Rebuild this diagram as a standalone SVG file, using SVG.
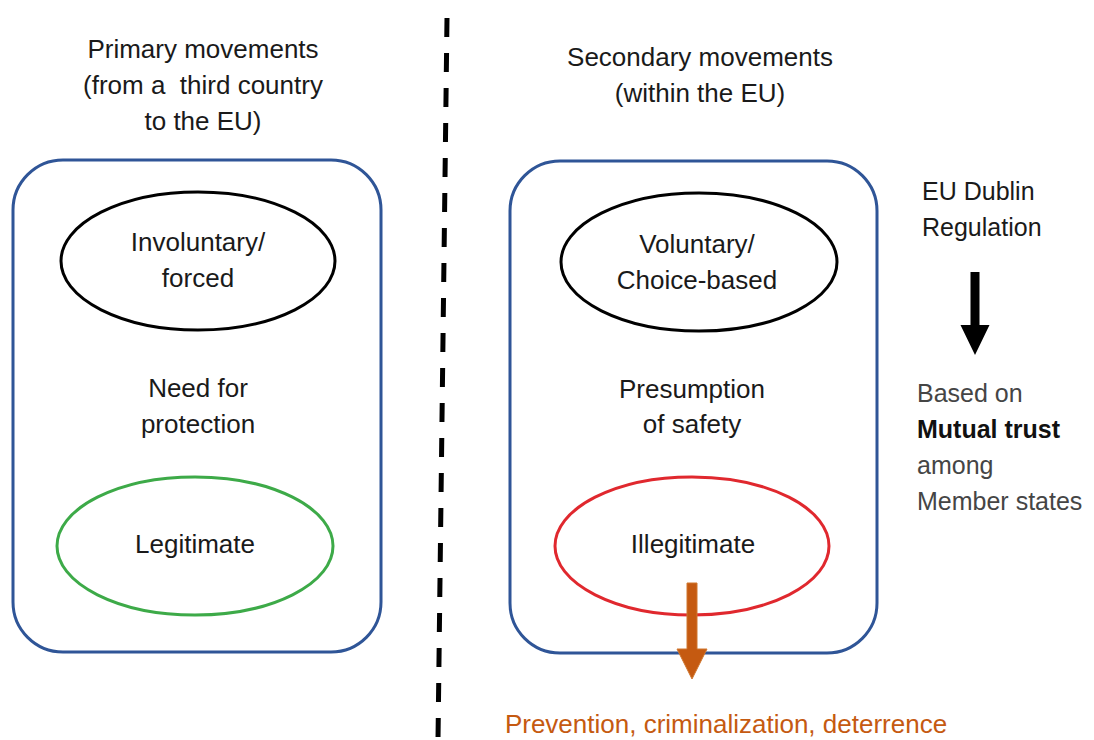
<svg xmlns="http://www.w3.org/2000/svg" width="1094" height="740" viewBox="0 0 1094 740">
<style>
.t{font-family:"Liberation Sans",Arial,sans-serif;font-size:26px;fill:#1a1a1a;text-anchor:middle}
.r{font-family:"Liberation Sans",Arial,sans-serif;font-size:25px;fill:#454545}
.box{fill:none;stroke:#2F5597;stroke-width:3}
.el{fill:none;stroke-width:3}
</style>
<rect width="1094" height="740" fill="#fff"/>
<g id="divider">
<line x1="447" y1="18" x2="438" y2="740" stroke="#000" stroke-width="5" stroke-dasharray="19 16"/>
</g>
<g id="primary-title">
<text class="t" x="203" y="58">Primary movements</text>
<text class="t" x="203" y="94" xml:space="preserve">(from a  third country</text>
<text class="t" x="203" y="130">to the EU)</text>
</g>
<g id="secondary-title">
<text class="t" x="700" y="66">Secondary movements</text>
<text class="t" x="700" y="102">(within the EU)</text>
</g>
<g id="primary-box">
<rect class="box" x="13" y="160" width="368" height="492" rx="50" ry="50"/>
</g>
<g id="secondary-box">
<rect class="box" x="510" y="161" width="367" height="492" rx="50" ry="50"/>
</g>
<g id="involuntary">
<ellipse class="el" cx="198" cy="261" rx="137" ry="69" stroke="#000"/>
<text class="t" x="198" y="251">Involuntary/</text>
<text class="t" x="198" y="287">forced</text>
</g>
<g id="need">
<text class="t" x="198" y="397">Need for</text>
<text class="t" x="198" y="433">protection</text>
</g>
<g id="legitimate">
<ellipse class="el" cx="195" cy="546" rx="138" ry="69" stroke="#3DAA48"/>
<text class="t" x="195" y="553">Legitimate</text>
</g>
<g id="voluntary">
<ellipse class="el" cx="699" cy="262" rx="138" ry="69" stroke="#000"/>
<text class="t" x="697" y="253">Voluntary/</text>
<text class="t" x="697" y="289">Choice-based</text>
</g>
<g id="presumption">
<text class="t" x="692" y="398">Presumption</text>
<text class="t" x="692" y="433">of safety</text>
</g>
<g id="illegitimate">
<ellipse class="el" cx="692" cy="546" rx="137" ry="69" stroke="#E0282E"/>
<text class="t" x="693" y="553">Illegitimate</text>
</g>
<g id="dublin">
<text class="r" x="922" y="200" fill="#1a1a1a" style="fill:#1a1a1a">EU Dublin</text>
<text class="r" x="922" y="236" style="fill:#1a1a1a">Regulation</text>
</g>
<g id="trust">
<text class="r" x="917" y="402">Based on</text>
<text class="r" x="917" y="438" style="font-weight:bold;fill:#111">Mutual trust</text>
<text class="r" x="917" y="474">among</text>
<text class="r" x="917" y="510">Member states</text>
</g>
<g id="outcome">
<text class="t" x="726" y="733" style="fill:#C55A11">Prevention, criminalization, deterrence</text>
</g>
<g id="connectors">
<path d="M970.5 272 H979.5 V325 H989.5 L975 355 L960.5 325 H970.5 Z" fill="#000"/>
<path d="M687 583 H697 V649 H707 L692 679 L677 649 H687 Z" fill="#C55A11" stroke="#D0772F" stroke-width="1"/>
</g>
</svg>
